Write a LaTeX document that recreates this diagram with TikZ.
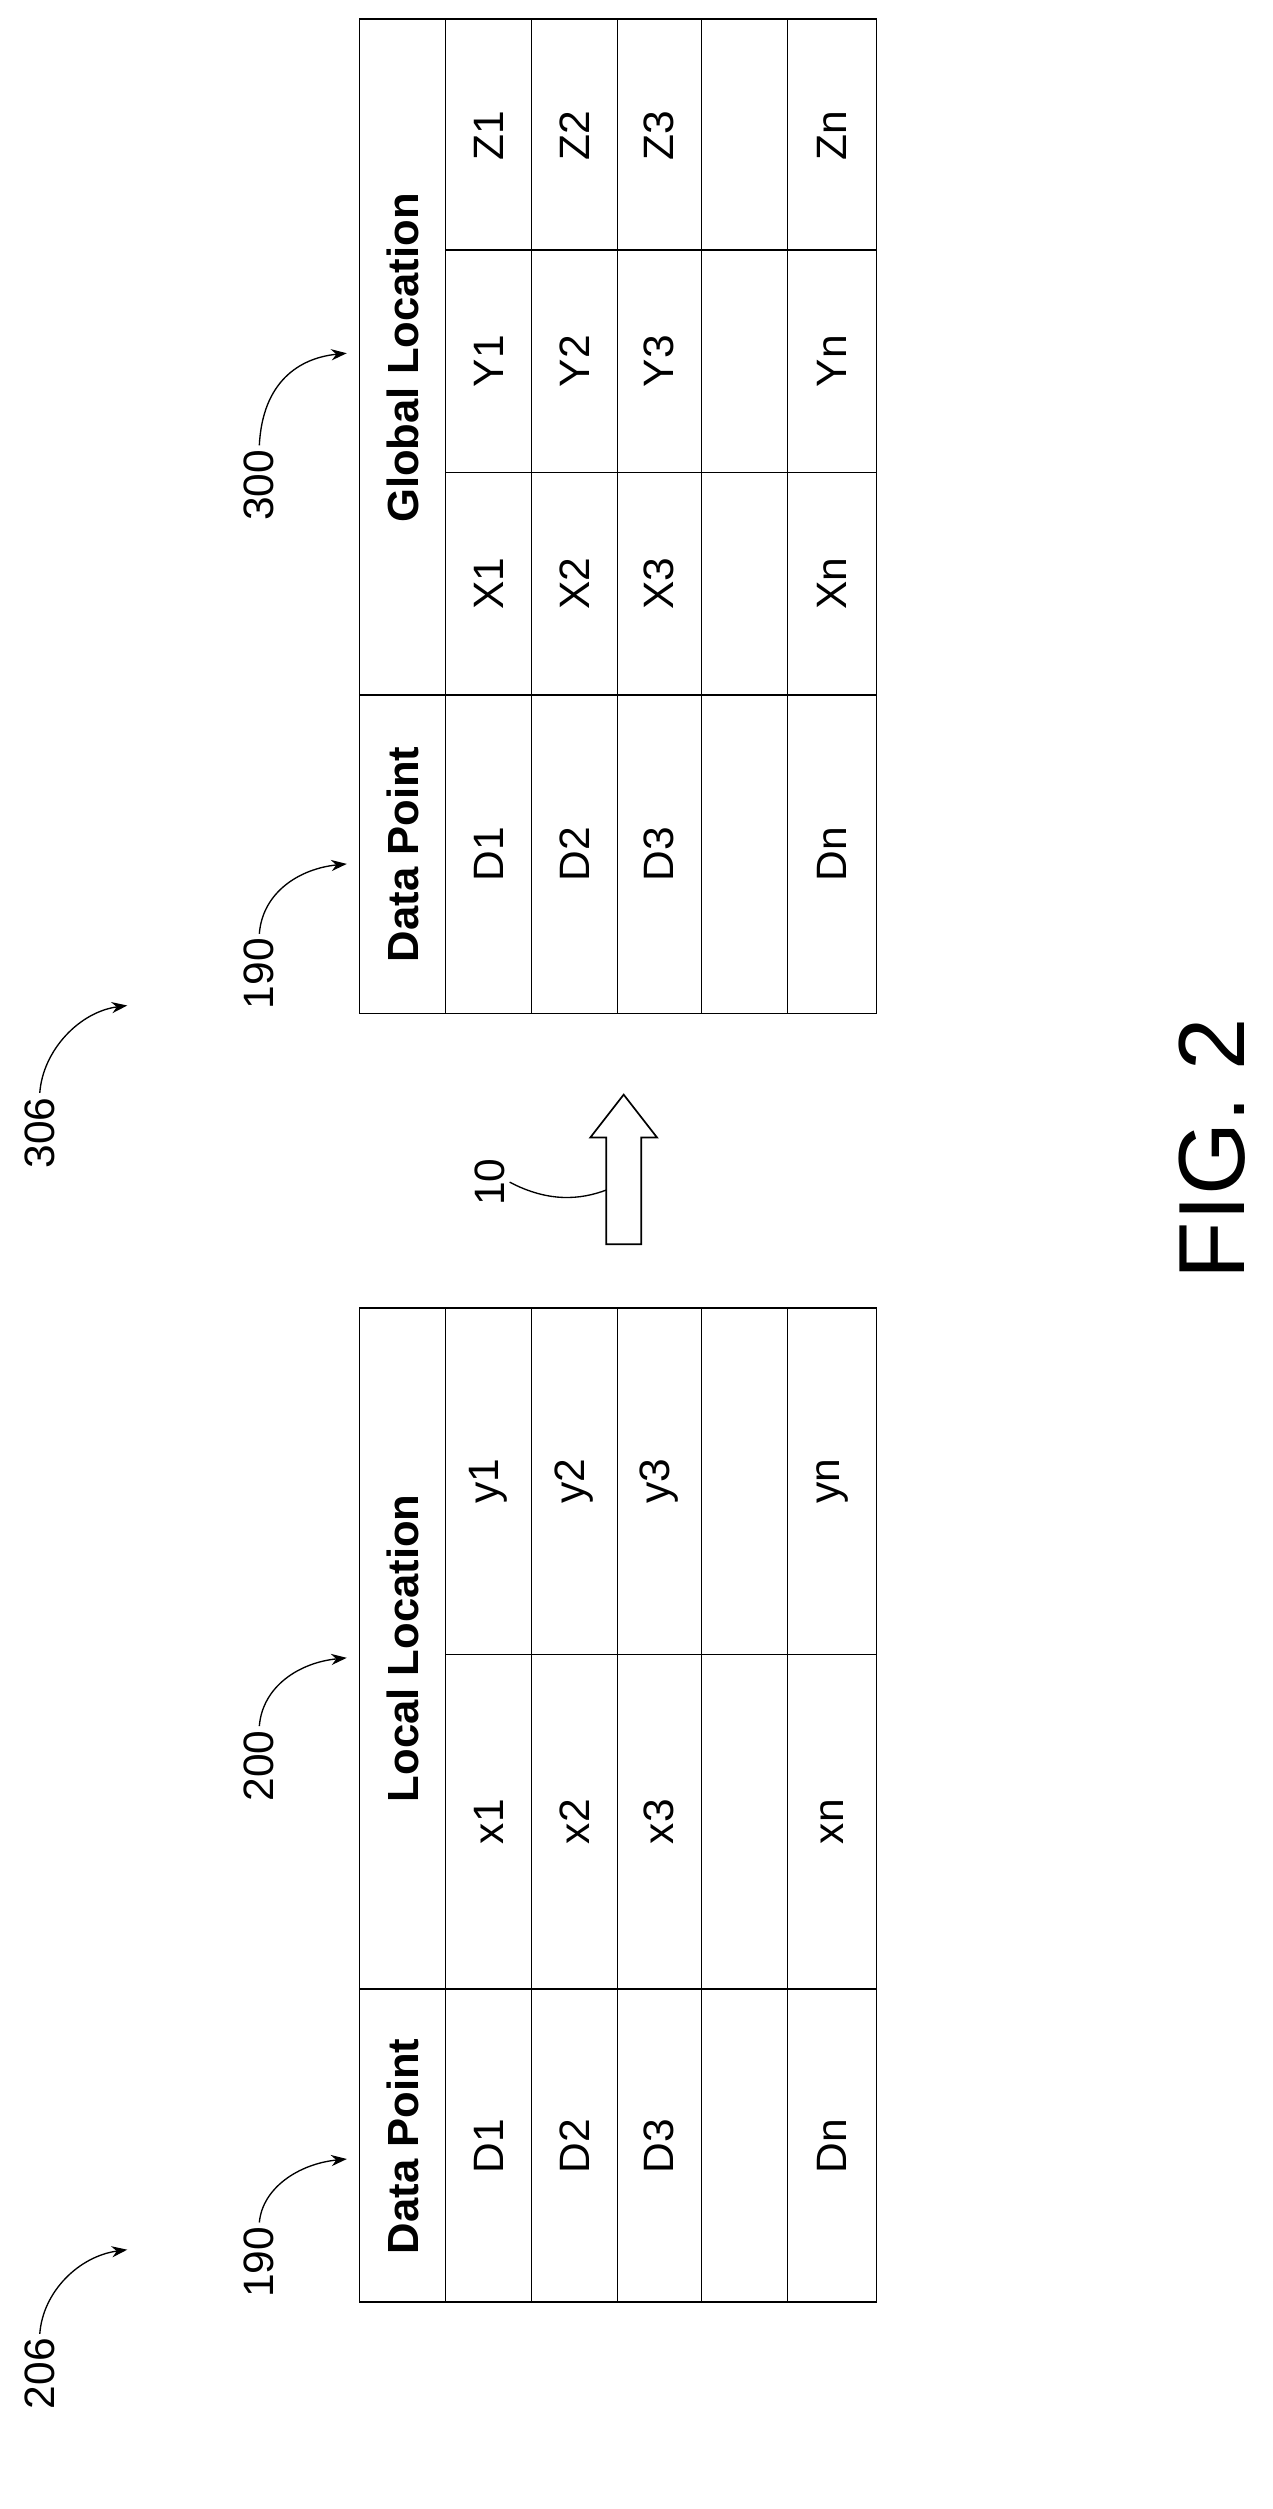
\documentclass[tikz,border=0pt]{standalone}
\usepackage{fontspec}
\setmainfont{Liberation Sans}
\usetikzlibrary{arrows.meta}

\begin{document}
\begin{tikzpicture}[
    x=0.05cm, y=-0.05cm,
    line width=1.4pt,
    cell/.style={rotate=90, font=\fontsize{38}{40}\selectfont},
    head/.style={rotate=90, font=\fontsize{39}{41}\selectfont\bfseries},
    ref/.style={rotate=90, font=\fontsize{38}{40}\selectfont},
    lead/.style={-{Stealth[length=14pt,width=10pt]}, line width=1.2pt}
]
\useasboundingbox (0,0) rectangle (800,1577);

% left table
\draw (226,822) rectangle (551,1447);
\foreach \x in {280,334,388,441,495} \draw (\x,822) -- (\x,1447);
\draw (226,1250) -- (551,1250);
\draw (280,1040) -- (551,1040);
\node[head] (lhd) at (253,1349) {Data Point};
\node[head] (lhl) at (253,1036) {Local Location};
\foreach \r/\x in {1/307,2/361,3/414} {
    \node[cell] (ld\r) at (\x,1349) {D\r};
    \node[cell] (lx\r) at (\x,1145) {x\r};
    \node[cell] (ly\r) at (\x,931) {y\r};
}
\node[cell] (ldn) at (523,1349) {Dn};
\node[cell] (lxn) at (523,1145) {xn};
\node[cell] (lyn) at (523,931) {yn};

% right table
\draw (226,12) rectangle (551,637);
\foreach \x in {280,334,388,441,495} \draw (\x,12) -- (\x,637);
\draw (226,437) -- (551,437);
\draw (280,297) -- (551,297);
\draw (280,157) -- (551,157);
\node[head] (rhd) at (253,537) {Data Point};
\node[head] (rhg) at (253,225) {Global Location};
\foreach \r/\x in {1/307,2/361,3/414} {
    \node[cell] (rd\r) at (\x,537) {D\r};
    \node[cell] (rx\r) at (\x,367) {X\r};
    \node[cell] (ry\r) at (\x,227) {Y\r};
    \node[cell] (rz\r) at (\x,85) {Z\r};
}
\node[cell] (rdn) at (523,537) {Dn};
\node[cell] (rxn) at (523,367) {Xn};
\node[cell] (ryn) at (523,227) {Yn};
\node[cell] (rzn) at (523,85) {Zn};

% transform arrow
\draw[line width=1.5pt] (381,782) -- (381,715) -- (371,715) -- (392,688)
    -- (413,715) -- (403,715) -- (403,782) -- cycle;
\coordinate (p10) at (381,748);

% reference numerals
\node[ref] (n206) at (25,1492) {206};
\node[ref] (n190a) at (163,1422) {190};
\node[ref] (n200) at (163,1110) {200};
\node[ref] (n306) at (25,712) {306};
\node[ref] (n190b) at (163,612) {190};
\node[ref] (n300) at (163,305) {300};
\node[ref] (n10) at (308,743) {10};
\coordinate (p206) at (80,1414);
\coordinate (p190a) at (218,1357);
\coordinate (p200) at (218,1042);
\coordinate (p306) at (80,632);
\coordinate (p190b) at (218,543);
\coordinate (p300) at (218,222);

\draw[lead] (n206.east) .. controls (27,1440) and (50,1418) .. (p206);
\draw[lead] (n190a.east) .. controls (165,1375) and (188,1360) .. (p190a);
\draw[lead] (n200.east) .. controls (165,1060) and (188,1045) .. (p200);
\draw[lead] (n306.east) .. controls (27,660) and (50,636) .. (p306);
\draw[lead] (n190b.east) .. controls (165,561) and (188,546) .. (p190b);
\draw[lead] (n300.east) .. controls (165,240) and (188,225) .. (p300);
\draw[line width=1.2pt] (n10.south) .. controls (345,756) and (365,754) .. (p10);

\node[rotate=90, font=\fontsize{84}{88}\selectfont] (fig) at (762,722) {FIG. 2};
\end{tikzpicture}
\end{document}
